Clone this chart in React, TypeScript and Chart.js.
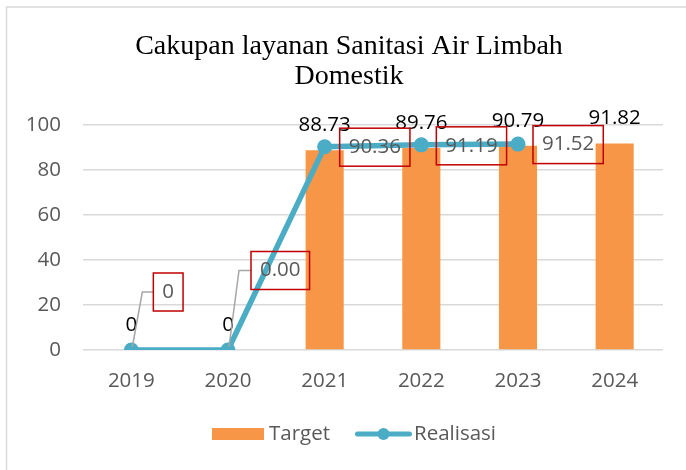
import React, { useEffect, useRef } from "react";
import { Chart, registerables } from "chart.js";

Chart.register(...registerables);

// ---- data ----
const years = ["2019", "2020", "2021", "2022", "2023", "2024"];
const target = [0, 0, 88.73, 89.76, 90.79, 91.82];
const realisasi: (number | null)[] = [0, 0, 90.36, 91.19, 91.52, null];
const targetLabels = ["0", "0", "88.73", "89.76", "90.79", "91.82"];
const realisasiLabels = ["0", "0.00", "90.36", "91.19", "91.52", ""];
const titleLines = ["Cakupan layanan Sanitasi Air Limbah", "Domestik"];
const yMin = 0;
const yMax = 100;
const yStep = 20;

// ---- styles ----
const FONT = "'Open Sans', sans-serif";
const FONT_SIZE = 20.5;
const TITLE_FONT = "28px 'Liberation Serif', 'Times New Roman', serif";
const BAR_COLOR = "#f79646";
const LINE_COLOR = "#4bacc6";
const TEXT_GRAY = "#595959";
const GRID = "#d9d9d9";

// callout placement for the Realisasi labels (offset from the point)
const callouts = [
  { dx: 22, dy: -58, leader: true },
  { dx: 23, dy: -79.5, leader: true },
  { dx: 15, dy: 0.5, leader: false },
  { dx: 15, dy: 1, leader: false },
  { dx: 15, dy: 0.5, leader: false },
  { dx: 15, dy: 0, leader: false },
];

const frameTitlePlugin = {
  id: "frameTitle",
  beforeDraw(chart: any) {
    const ctx = chart.ctx;
    ctx.save();
    ctx.strokeStyle = GRID;
    ctx.lineWidth = 1.5;
    ctx.beginPath();
    ctx.moveTo(6.5, chart.height + 5);
    ctx.lineTo(6.5, 7);
    ctx.lineTo(chart.width + 5, 7);
    ctx.stroke();
    // chart title
    ctx.font = TITLE_FONT;
    ctx.fillStyle = "#000000";
    ctx.textAlign = "center";
    ctx.textBaseline = "middle";
    titleLines.forEach((line, i) => {
      ctx.fillText(line, chart.width / 2, 47 + i * 30);
    });
    ctx.restore();
  },
};

const labelPlugin = {
  id: "valueLabels",
  afterDatasetsDraw(chart: any) {
    const ctx = chart.ctx;
    const lineMeta = chart.getDatasetMeta(0);
    const barMeta = chart.getDatasetMeta(1);
    ctx.save();
    ctx.font = `${FONT_SIZE}px ${FONT}`;
    ctx.textAlign = "center";
    ctx.textBaseline = "middle";
    ctx.fillStyle = "#000000";
    barMeta.data.forEach((el: any, i: number) => {
      ctx.fillText(targetLabels[i], el.x, el.y - 25);
    });
    lineMeta.data.forEach((el: any, i: number) => {
      if (realisasi[i] == null) return;
      const text = realisasiLabels[i];
      const c = callouts[i];
      const tw = ctx.measureText(text).width;
      const w = tw + 18;
      const h = 38;
      const left = el.x + c.dx;
      const cy = el.y + c.dy;
      if (c.leader) {
        ctx.strokeStyle = "#a6a6a6";
        ctx.lineWidth = 1.5;
        ctx.beginPath();
        ctx.moveTo(el.x + 1, el.y - 3);
        ctx.lineTo(el.x + 11, cy);
        ctx.lineTo(left, cy);
        ctx.stroke();
      }
      ctx.strokeStyle = "#c00000";
      ctx.lineWidth = 1.5;
      ctx.strokeRect(left, cy - h / 2, w, h);
      ctx.fillStyle = TEXT_GRAY;
      ctx.fillText(text, left + w / 2, cy);
    });
    ctx.restore();
  },
};

const legendPlugin = {
  id: "customLegend",
  afterDraw(chart: any) {
    const ctx = chart.ctx;
    const lab0 = chart.data.datasets[1].label; // Target (bar)
    const lab1 = chart.data.datasets[0].label; // Realisasi (line)
    ctx.save();
    ctx.font = `${FONT_SIZE}px ${FONT}`;
    ctx.textBaseline = "middle";
    ctx.textAlign = "left";
    const t1 = ctx.measureText(lab0).width;
    const t2 = ctx.measureText(lab1).width;
    const total = 52 + 5 + t1 + 25 + 57 + 2 + t2;
    let x = chart.width / 2 - total / 2 + 5;
    const y = chart.chartArea.bottom + 84;
    ctx.fillStyle = BAR_COLOR;
    ctx.fillRect(x, y - 6, 52, 12);
    x += 57;
    ctx.fillStyle = TEXT_GRAY;
    ctx.fillText(lab0, x, y);
    x += t1 + 25;
    ctx.strokeStyle = LINE_COLOR;
    ctx.lineWidth = 5;
    ctx.lineCap = "round";
    ctx.beginPath();
    ctx.moveTo(x + 2.5, y);
    ctx.lineTo(x + 54.5, y);
    ctx.stroke();
    ctx.fillStyle = LINE_COLOR;
    ctx.beginPath();
    ctx.arc(x + 28.5, y, 6, 0, Math.PI * 2);
    ctx.fill();
    x += 59;
    ctx.fillStyle = TEXT_GRAY;
    ctx.fillText(lab1, x, y);
    ctx.restore();
  },
};

export default function App() {
  const ref = useRef<HTMLCanvasElement>(null);
  useEffect(() => {
    const chart = new Chart(ref.current as HTMLCanvasElement, {
      type: "bar",
      data: {
        labels: years,
        datasets: [
          {
            type: "line",
            label: "Realisasi",
            data: realisasi,
            borderColor: LINE_COLOR,
            backgroundColor: LINE_COLOR,
            borderWidth: 5.5,
            pointRadius: 7.5,
            pointBackgroundColor: LINE_COLOR,
            pointBorderWidth: 0,
            tension: 0,
            order: 0,
          } as any,
          {
            type: "bar",
            label: "Target",
            data: target,
            backgroundColor: BAR_COLOR,
            borderWidth: 0,
            categoryPercentage: 1,
            barPercentage: 0.394,
            order: 1,
          },
        ],
      },
      options: {
        responsive: false,
        animation: false,
        devicePixelRatio: 1,
        layout: { padding: { left: 0, right: 35, top: 125, bottom: 80 } },
        plugins: {
          legend: { display: false },
          tooltip: { enabled: false },
          title: { display: false },
        },
        scales: {
          x: {
            grid: { display: false, drawTicks: false },
            border: { display: false },
            ticks: { color: TEXT_GRAY, font: { family: FONT, size: FONT_SIZE }, padding: 18.5 },
            afterFit: (scale: any) => {
              scale.height = 40;
            },
          },
          y: {
            min: yMin,
            max: yMax,
            grid: { color: GRID, lineWidth: 1.5, drawTicks: false },
            border: { display: false },
            ticks: { stepSize: yStep, color: TEXT_GRAY, font: { family: FONT, size: FONT_SIZE }, padding: 22 },
            afterFit: (scale: any) => {
              scale.width = 83;
            },
          },
        },
      },
      plugins: [frameTitlePlugin, labelPlugin, legendPlugin],
    });
    return () => chart.destroy();
  }, []);
  return (
    <div style={{ position: "absolute", left: 0, top: 0, width: 686, height: 470, overflow: "hidden", background: "#ffffff" }}>
      <canvas ref={ref} width={698} height={470} style={{ display: "block", width: 698, height: 470 }} />
    </div>
  );
}
